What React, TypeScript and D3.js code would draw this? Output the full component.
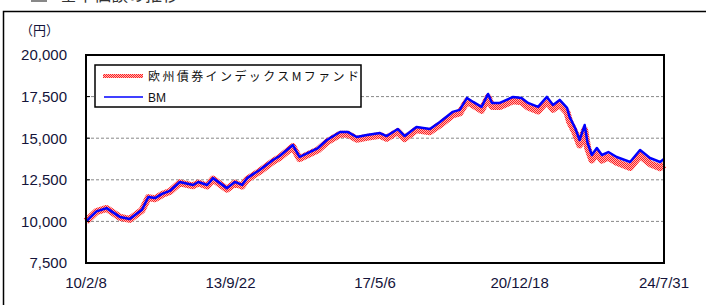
import * as d3 from 'd3'

const W = 706
const H = 305
const PLOT = { left: 86, top: 55, right: 664, bottom: 263 }

const dates = [
  '2010-02-08', '2010-05-15', '2010-08-15', '2010-12-15', '2011-03-15', '2011-07-05', '2011-09-01', '2011-11-01',
  '2012-01-05', '2012-03-15', '2012-06-15', '2012-10-15', '2012-12-01', '2013-02-20', '2013-04-15', '2013-08-20',
  '2013-11-01', '2014-01-05', '2014-02-20', '2014-06-15', '2014-10-15', '2014-12-15', '2015-04-15', '2015-06-15',
  '2015-09-15', '2015-12-01', '2016-02-20', '2016-06-20', '2016-09-01', '2016-11-20', '2017-02-20', '2017-06-20',
  '2017-08-20', '2017-12-01', '2018-02-01', '2018-05-20', '2018-09-20', '2018-12-20', '2019-04-15', '2019-06-20',
  '2019-08-25', '2019-10-20', '2020-01-05', '2020-03-05', '2020-04-10', '2020-06-20', '2020-10-20', '2021-01-05',
  '2021-03-05', '2021-06-05', '2021-08-25', '2021-10-20', '2021-12-20', '2022-02-25', '2022-03-20', '2022-05-10',
  '2022-06-20', '2022-08-05', '2022-09-01', '2022-10-10', '2022-11-25', '2023-01-10', '2023-03-10', '2023-05-25',
  '2023-09-25', '2023-12-25', '2024-03-25', '2024-06-25', '2024-07-31',
]

// ベンチマーク
const bm = [
  10000, 10600, 10800, 10270, 10150, 10700, 11470, 11400,
  11650, 11830, 12370, 12190, 12370, 12190, 12600, 12000,
  12370, 12190, 12600, 13090, 13690, 13930, 14590, 13870,
  14170, 14410, 14890, 15370, 15370, 15070, 15190, 15310,
  15130, 15550, 15130, 15670, 15550, 15970, 16580, 16700,
  17420, 17180, 16880, 17660, 17120, 17120, 17480, 17420,
  17120, 16880, 17480, 17000, 17300, 16820, 16280, 15610,
  14890, 15790, 14710, 13990, 14410, 13990, 14170, 13870,
  13570, 14290, 13810, 13570, 13750,
]

// ファンド基準価額
const fund = [
  10000, 10590, 10780, 10250, 10120, 10670, 11430, 11360,
  11610, 11790, 12320, 12140, 12310, 12130, 12540, 11930,
  12300, 12120, 12520, 13010, 13600, 13840, 14490, 13770,
  14060, 14300, 14770, 15240, 15240, 14940, 15050, 15170,
  14990, 15400, 14980, 15510, 15390, 15800, 16400, 16520,
  17230, 16990, 16680, 17450, 16910, 16900, 17250, 17190,
  16880, 16640, 17230, 16740, 17030, 16550, 16000, 15330,
  14600, 15500, 14420, 13700, 14110, 13680, 13860, 13550,
  13240, 13960, 13470, 13230, 13410,
]

const yTicks = [7500, 10000, 12500, 15000, 17500, 20000]
const xTickDates = ['2010-02-08', '2013-09-22', '2017-05-06', '2020-12-18', '2024-07-31']
const xTickLabels = ['10/2/8', '13/9/22', '17/5/6', '20/12/18', '24/7/31']

const fundName = '欧州債券インデックスMファンド'
const bmName = 'BM'

const parse = d3.timeParse('%Y-%m-%d')

export default function App() {
  const t = dates.map(d => parse(d) as Date)
  const x = d3.scaleTime()
    .domain([parse(dates[0]) as Date, parse(dates[dates.length - 1]) as Date])
    .range([PLOT.left, PLOT.right])
  const y = d3.scaleLinear().domain([7500, 20000]).range([PLOT.bottom, PLOT.top])

  const line = d3.line<number>()
    .x((_, i) => x(t[i]))
    .y(v => y(v))

  const numFont = '"Liberation Sans", Arial, sans-serif'
  const jpFont = '"Noto Sans CJK JP", sans-serif'
  const textColor = '#14143a'

  return (
    <svg width={W} height={H} style={{ position: 'absolute', left: 0, top: 0, background: '#fff' }}>
      <defs>
        <pattern id="checker" width="2" height="2" patternUnits="userSpaceOnUse">
          <rect width="2" height="2" fill="#ffb4b4" />
          <rect width="1" height="1" fill="#ff2020" />
          <rect x="1" y="1" width="1" height="1" fill="#ff2020" />
        </pattern>
      </defs>

      {/* title, cut off at the top like the original */}
      <rect x={31} y={-14} width={16} height={16} fill="#888" />
      <text x={60} y={1} fontFamily={jpFont} fontSize={17} fill="#333">基準価額の推移</text>

      {/* outer frame */}
      <path d={`M3.5,${H + 5}V11.5H${W + 5}`} fill="none" stroke="#000" strokeWidth={1.5} />

      <text x={20} y={35} fontFamily={jpFont} fontSize={13} fill={textColor}>（円）</text>

      {/* grid */}
      {yTicks.filter(v => v > 7500 && v < 20000).map(v => (
        <line key={v} x1={PLOT.left} x2={PLOT.right} y1={y(v)} y2={y(v)}
          stroke="#888" strokeWidth={1} strokeDasharray="3,2" />
      ))}

      {/* series */}
      <path d={line(fund) ?? ''} fill="none" stroke="url(#checker)" strokeWidth={7} strokeLinejoin="round" />
      <path d={line(bm) ?? ''} fill="none" stroke="#0000ff" strokeWidth={2.5} strokeLinejoin="round" />

      {/* plot frame */}
      <rect x={PLOT.left} y={PLOT.top} width={PLOT.right - PLOT.left} height={PLOT.bottom - PLOT.top}
        fill="none" stroke="#000" strokeWidth={2} />

      {/* y axis */}
      {yTicks.map(v => (
        <g key={v}>
          <line x1={PLOT.left} x2={PLOT.left + 4} y1={y(v)} y2={y(v)} stroke="#000" strokeWidth={1} />
          <text x={67} y={y(v)} dy="0.36em" textAnchor="end" fontFamily={numFont} fontSize={15} fill={textColor}>
            {d3.format(',')(v)}
          </text>
        </g>
      ))}

      {/* x axis */}
      {xTickDates.map((d, i) => (
        <text key={d} x={x(parse(d) as Date)} y={288} textAnchor="middle" fontFamily={numFont} fontSize={15} fill={textColor}>
          {xTickLabels[i]}
        </text>
      ))}

      {/* legend */}
      <rect x={95} y={65} width={266} height={42} fill="#fff" stroke="#000" strokeWidth={1.5} />
      <line x1={103} x2={143} y1={76} y2={76} stroke="url(#checker)" strokeWidth={4} />
      <text x={148} y={80.5} fontFamily={jpFont} fontSize={12} letterSpacing={2.4} fill="#111">{fundName}</text>
      <line x1={104} x2={143} y1={97} y2={97} stroke="#0000ff" strokeWidth={1.5} />
      <text x={148} y={101.5} fontFamily={numFont} fontSize={12} fill="#111">{bmName}</text>
    </svg>
  )
}
